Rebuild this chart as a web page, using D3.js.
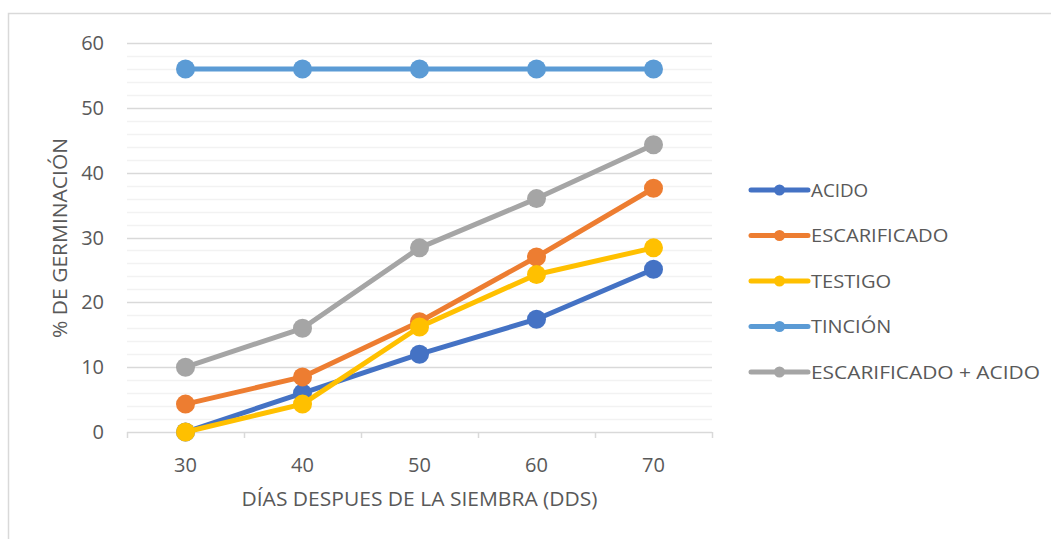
<!DOCTYPE html>
<html>
<head>
<meta charset="utf-8">
<script src="https://cdn.jsdelivr.net/npm/d3@7"></script>
<style>
  body { margin: 0; background: #fff; }
  text { font-family: "Open Sans", "Noto Sans", sans-serif; fill: #595959; }
</style>
</head>
<body>
<svg id="chart" width="1051" height="539"></svg>
<script>
// days after sowing
const days = [30, 40, 50, 60, 70]
const seriesNames = ["ACIDO", "ESCARIFICADO", "TESTIGO", "TINCIÓN", "ESCARIFICADO + ACIDO"]
const acido = [0, 6, 12, 17.4, 25.1]
const escarificado = [4.3, 8.5, 17, 27, 37.6]
const testigo = [0, 4.3, 16.2, 24.3, 28.4]
const tincion = [56, 56, 56, 56, 56]
const escAcido = [10, 16, 28.4, 36, 44.3]
const yTicks = [0, 10, 20, 30, 40, 50, 60]
const colours = ["#4472C4", "#ED7D31", "#FFC000", "#5B9BD5", "#A5A5A5"]

const allSeries = [acido, escarificado, testigo, tincion, escAcido]

let svg = d3.select("#chart"),
    margin = {left: 127, top: 43, right: 339, bottom: 107},
    width = +svg.attr("width") - margin.left - margin.right,
    height = +svg.attr("height") - margin.top - margin.bottom

// chart frame (cut at right and bottom like the picture)
svg.append("rect")
   .attr("x", 8.5).attr("y", 13.5)
   .attr("width", 1100).attr("height", 600)
   .attr("fill", "none")
   .attr("stroke", "#d9d9d9")
   .attr("stroke-width", 1.5)

let focus = svg.append("g")
               .attr("transform", "translate(" + margin.left + "," + margin.top + ")")

let x = d3.scaleBand()
          .domain(days)
          .range([0, width])

let y = d3.scaleLinear()
          .domain([0, 60])
          .range([height, 0])

// minor gridlines every 2
focus.append("g")
     .selectAll("line")
     .data(d3.range(2, 60, 2).filter(v => v % 10 != 0))
     .join("line")
     .attr("x1", 0).attr("x2", width)
     .attr("y1", d => Math.round(y(d)) + 0.5)
     .attr("y2", d => Math.round(y(d)) + 0.5)
     .attr("stroke", "#f2f2f2")
     .attr("stroke-width", 1.5)

// major gridlines
focus.append("g")
     .selectAll("line")
     .data(yTicks.slice(1))
     .join("line")
     .attr("x1", 0).attr("x2", width)
     .attr("y1", d => Math.round(y(d)) + 0.5)
     .attr("y2", d => Math.round(y(d)) + 0.5)
     .attr("stroke", "#d9d9d9")
     .attr("stroke-width", 1.5)

// y tick labels
focus.append("g")
     .selectAll("text")
     .data(yTicks)
     .join("text")
     .attr("x", -23)
     .attr("y", d => y(d))
     .attr("dy", "0.35em")
     .attr("text-anchor", "end")
     .style("font-size", "20px")
     .text(d => d)

// x axis line and ticks at band edges
focus.append("line")
     .attr("x1", 0).attr("x2", width)
     .attr("y1", height + 0.5).attr("y2", height + 0.5)
     .attr("stroke", "#d9d9d9")
     .attr("stroke-width", 1.5)

let edges = days.map(d => x(d)).concat([width])
focus.append("g")
     .selectAll("line")
     .data(edges)
     .join("line")
     .attr("x1", d => Math.round(d) + 0.5).attr("x2", d => Math.round(d) + 0.5)
     .attr("y1", height).attr("y2", height + 6)
     .attr("stroke", "#d9d9d9")
     .attr("stroke-width", 1.5)

focus.append("g")
     .selectAll("text")
     .data(days)
     .join("text")
     .attr("x", d => x(d) + x.bandwidth() / 2)
     .attr("y", height + 33)
     .attr("dy", "0.35em")
     .attr("text-anchor", "middle")
     .style("font-size", "20px")
     .text(d => d)

// axis titles
svg.append("text")
   .attr("x", margin.left + width / 2)
   .attr("y", 499)
   .attr("dy", "0.35em")
   .attr("text-anchor", "middle")
   .style("font-size", "20px")
   .attr("textLength", 356)
   .attr("lengthAdjust", "spacingAndGlyphs")
   .text("DÍAS DESPUES DE LA SIEMBRA (DDS)")

svg.append("text")
   .attr("transform", "translate(60,238) rotate(-90)")
   .attr("dy", "0.35em")
   .attr("text-anchor", "middle")
   .style("font-size", "20px")
   .attr("textLength", 200)
   .attr("lengthAdjust", "spacingAndGlyphs")
   .text("% DE GERMINACIÓN")

// series lines and markers
let line = d3.line()
             .x((d, i) => x(days[i]) + x.bandwidth() / 2)
             .y(d => y(d))

allSeries.forEach((s, k) => {
  let g = focus.append("g")
  g.append("path")
   .datum(s)
   .attr("d", line)
   .attr("fill", "none")
   .attr("stroke", colours[k])
   .attr("stroke-width", 5)
   .attr("stroke-linejoin", "round")
   .attr("stroke-linecap", "round")
  g.selectAll("circle")
   .data(s)
   .join("circle")
   .attr("cx", (d, i) => x(days[i]) + x.bandwidth() / 2)
   .attr("cy", d => y(d))
   .attr("r", 9.5)
   .attr("fill", colours[k])
})

// legend
let legend = svg.append("g")
                .selectAll("g")
                .data(seriesNames)
                .join("g")
                .attr("transform", (d, i) => "translate(751," + (190 + i * 45.5) + ")")

legend.append("line")
      .attr("x1", 0).attr("x2", 57)
      .attr("stroke", (d, i) => colours[i])
      .attr("stroke-width", 5)
      .attr("stroke-linecap", "round")

legend.append("circle")
      .attr("cx", 28.5)
      .attr("r", 5.5)
      .attr("fill", (d, i) => colours[i])

legend.append("text")
      .attr("x", 60)
      .attr("dy", "0.35em")
      .style("font-size", "19px")
      .attr("textLength", d => d.length * 229 / 20)
      .attr("lengthAdjust", "spacingAndGlyphs")
      .text(d => d)
</script>
</body>
</html>
